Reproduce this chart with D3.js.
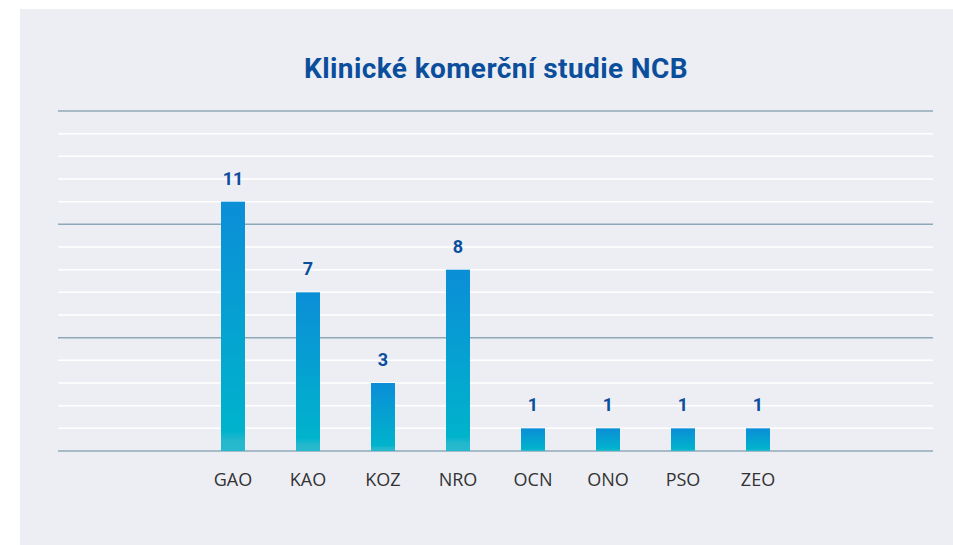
<!DOCTYPE html>
<html>
<head>
<meta charset="utf-8">
<script src="https://cdn.jsdelivr.net/npm/d3@7"></script>
<style>
  body { margin: 0; background: #ffffff; }
  svg { display: block; }
</style>
</head>
<body>
<div id="chart"></div>
<script>
const title = "Klinické komerční studie NCB";
const categories = ["GAO", "KAO", "KOZ", "NRO", "OCN", "ONO", "PSO", "ZEO"];
const values = [11, 7, 3, 8, 1, 1, 1, 1];
const minorTicks = d3.range(0, 16, 1);
const majorTicks = [0, 5, 10, 15];

const width = 953, height = 545;
const plotLeft = 58, plotRight = 933, plotTop = 111, plotBottom = 451;
const centre = (plotLeft + plotRight) / 2, step = 75;

const svg = d3.select("#chart").append("svg")
    .attr("width", width)
    .attr("height", height);

const defs = svg.append("defs");
const grad = defs.append("linearGradient")
    .attr("id", "barGrad")
    .attr("x1", 0).attr("y1", 0).attr("x2", 0).attr("y2", 1);
grad.append("stop").attr("offset", "0%").attr("stop-color", "#0b8ed7");
grad.append("stop").attr("offset", "92%").attr("stop-color", "#00b3cc");
grad.append("stop").attr("offset", "96%").attr("stop-color", "#25b8cd");
grad.append("stop").attr("offset", "100%").attr("stop-color", "#27b9cd");

// panel
svg.append("rect")
    .attr("x", 20).attr("y", 9)
    .attr("width", width - 20).attr("height", height - 9)
    .attr("fill", "#edeef4");

const x = d3.scaleBand()
    .domain(categories)
    .range([centre - step * categories.length / 2, centre + step * categories.length / 2])
    .paddingInner(0.68)
    .paddingOuter(0.34);

const y = d3.scaleLinear()
    .domain([0, 15])
    .range([plotBottom, plotTop]);

// grid
svg.append("g").selectAll("line")
    .data(minorTicks.filter(d => !majorTicks.includes(d)))
    .join("line")
    .attr("x1", plotLeft).attr("x2", plotRight)
    .attr("y1", d => y(d)).attr("y2", d => y(d))
    .attr("stroke", "#ffffff")
    .attr("stroke-width", 1.5);

svg.append("g").selectAll("line")
    .data(majorTicks)
    .join("line")
    .attr("x1", plotLeft).attr("x2", plotRight)
    .attr("y1", d => y(d)).attr("y2", d => y(d))
    .attr("stroke", "#8ea8b8")
    .attr("stroke-width", 1.5);

// bars
svg.append("g").selectAll("rect")
    .data(values)
    .join("rect")
    .attr("x", (d, i) => x(categories[i]))
    .attr("y", d => y(d))
    .attr("width", x.bandwidth())
    .attr("height", d => y(0) - y(d))
    .attr("fill", "url(#barGrad)");

// value labels
svg.append("g").selectAll("text")
    .data(values)
    .join("text")
    .attr("x", (d, i) => x(categories[i]) + x.bandwidth() / 2)
    .attr("y", d => y(d) - 17)
    .attr("text-anchor", "middle")
    .attr("font-family", "Roboto, 'Open Sans', sans-serif")
    .attr("font-weight", "bold")
    .attr("font-size", 18)
    .attr("fill", "#0b4f9c")
    .text(d => d);

// x axis labels
const xAxis = d3.axisBottom(x).tickSize(0).tickPadding(22);
const gx = svg.append("g")
    .attr("transform", "translate(0," + plotBottom + ")")
    .call(xAxis);
gx.select(".domain").remove();
gx.selectAll("text")
    .attr("font-family", "'Open Sans', sans-serif")
    .attr("font-size", 18)
    .attr("fill", "#333333");

svg.append("text")
    .attr("x", 496)
    .attr("y", 78)
    .attr("text-anchor", "middle")
    .attr("font-family", "Roboto, 'Open Sans', sans-serif")
    .attr("font-weight", "bold")
    .attr("font-size", 28)
    .attr("letter-spacing", 0.4)
    .attr("fill", "#0b4f9c")
    .text(title);
</script>
</body>
</html>
